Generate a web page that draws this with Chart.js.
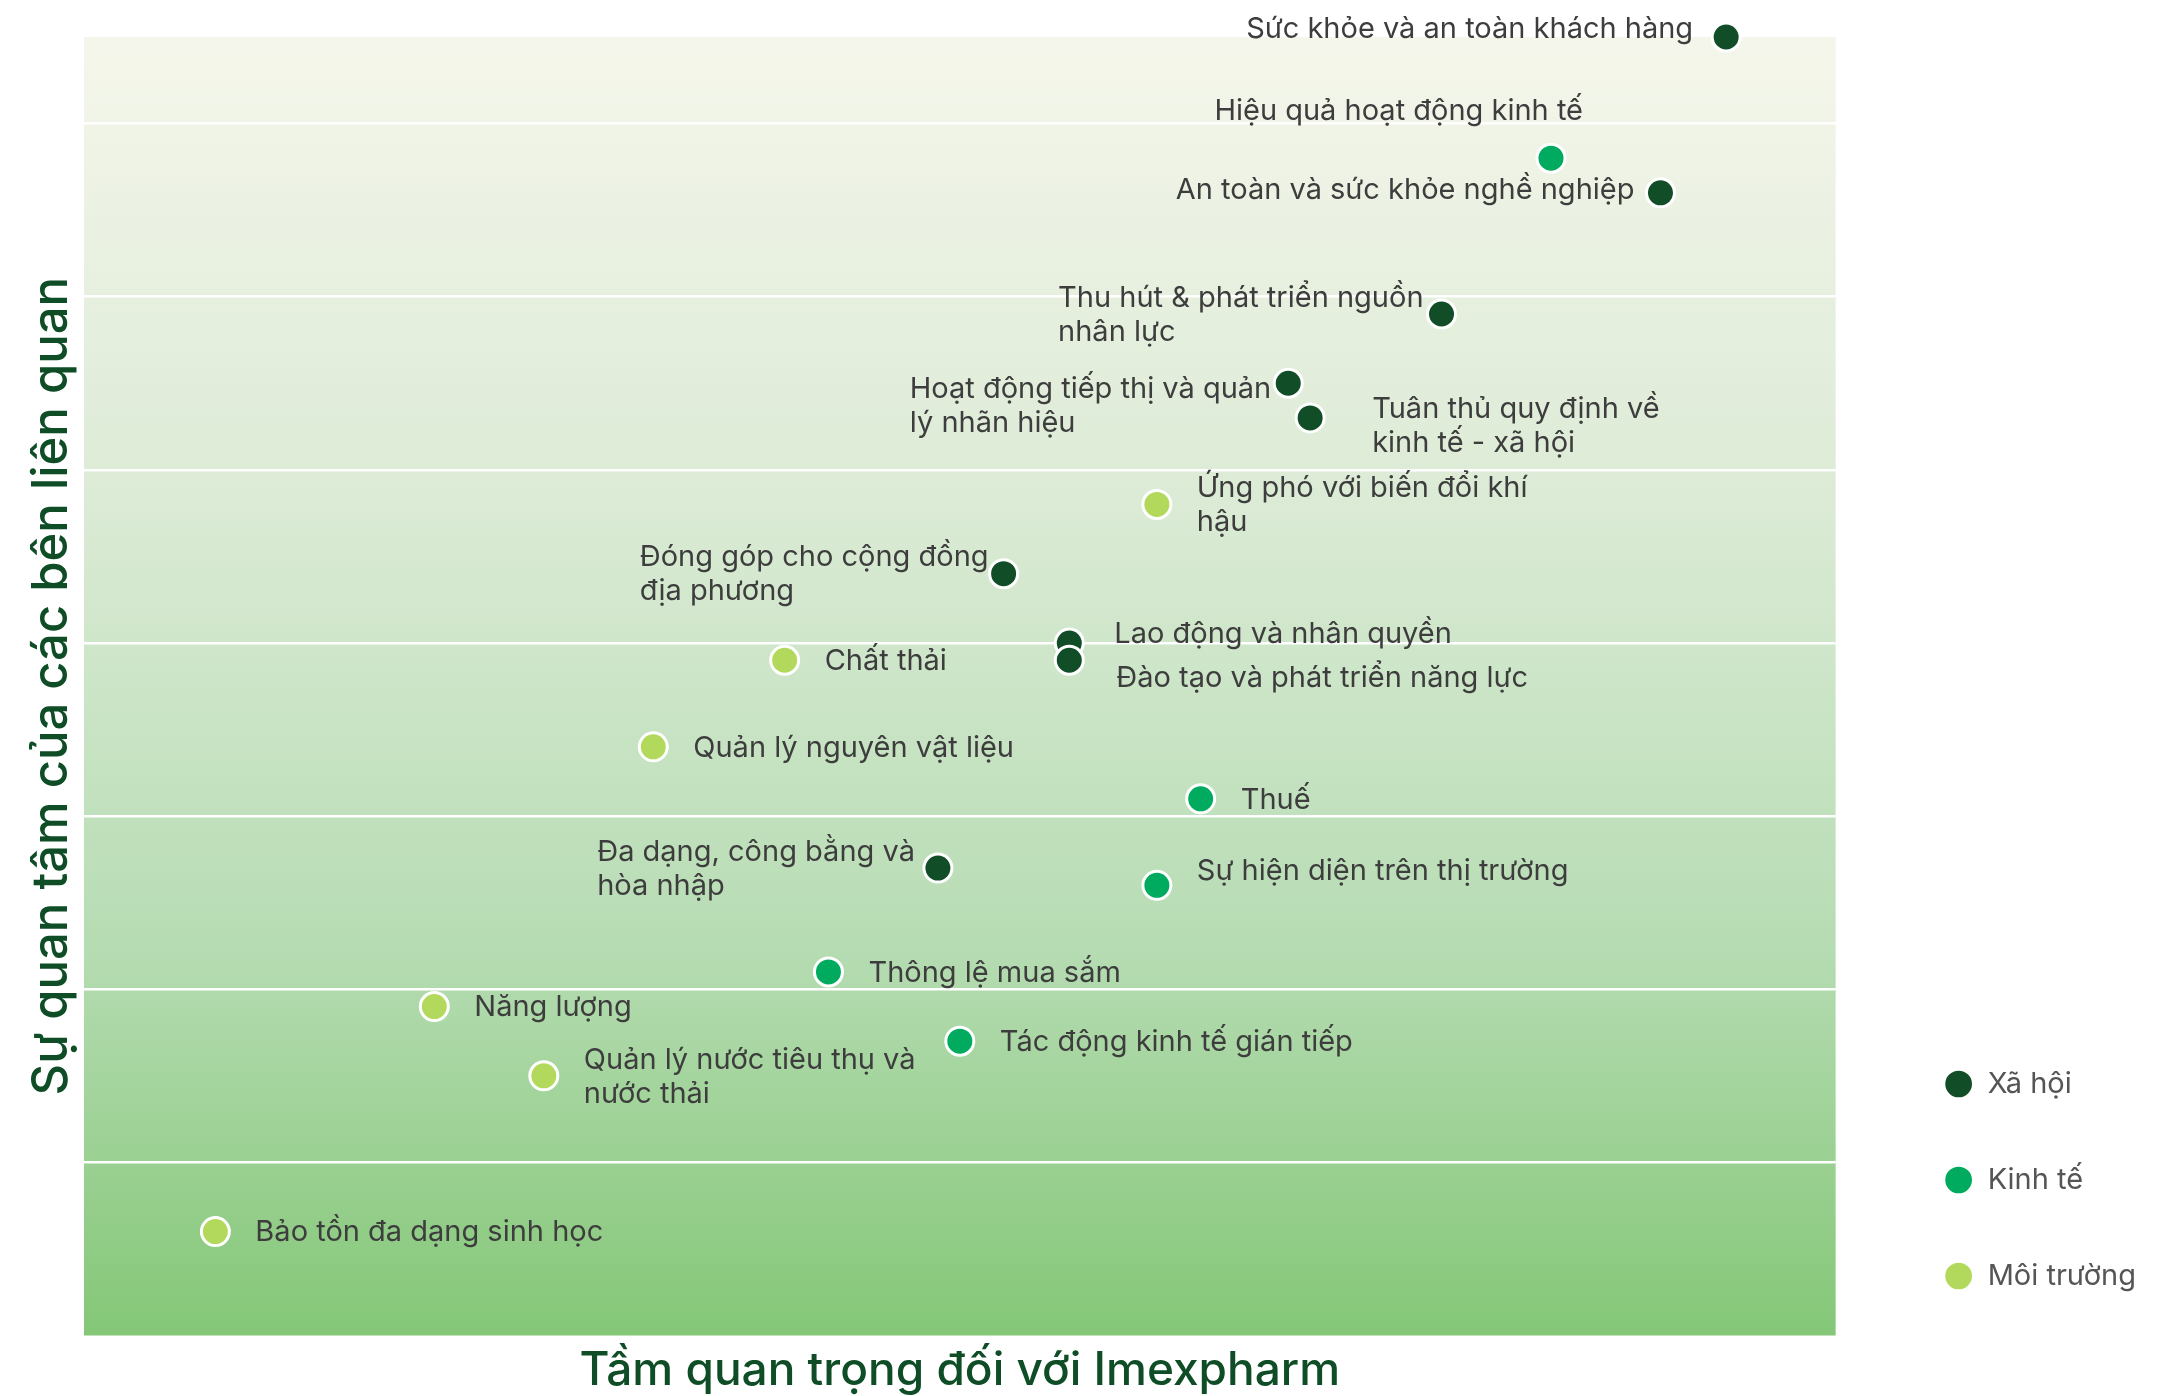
<!DOCTYPE html>
<html lang="vi">
<head>
<meta charset="utf-8">
<title>Ma trận trọng yếu</title>
<script src="https://cdn.jsdelivr.net/npm/chart.js@4.4.1/dist/chart.umd.min.js"></script>
<style>
  html, body { margin: 0; padding: 0; background: #fff; }
  #wrap { width: 2160px; height: 1396px; }
</style>
</head>
<body>
<div id="wrap"><canvas id="matrix"></canvas></div>
<script>
// -------------------------------
// DỮ LIỆU
// -------------------------------
const GROUPS = ["Xã hội", "Kinh tế", "Môi trường"];

const SOCIAL_TOPICS = [
  "Sức khỏe và an toàn khách hàng",
  "An toàn và sức khỏe nghề nghiệp",
  "Thu hút & phát triển nguồn\nnhân lực",
  "Hoạt động tiếp thị và quản\nlý nhãn hiệu",
  "Tuân thủ quy định về\nkinh tế - xã hội",
  "Đóng góp cho cộng đồng\nđịa phương",
  "Lao động và nhân quyền",
  "Đào tạo và phát triển năng lực",
  "Đa dạng, công bằng và\nhòa nhập"
];
const SOCIAL_X = [7.5, 7.2, 6.2, 5.5, 5.6, 4.2, 4.5, 4.5, 3.9];
const SOCIAL_Y = [7.5, 6.6, 5.9, 5.5, 5.3, 4.4, 4.0, 3.9, 2.7];

const ECONOMIC_TOPICS = [
  "Hiệu quả hoạt động kinh tế",
  "Thuế",
  "Sự hiện diện trên thị trường",
  "Thông lệ mua sắm",
  "Tác động kinh tế gián tiếp"
];
const ECONOMIC_X = [6.7, 5.1, 4.9, 3.4, 4.0];
const ECONOMIC_Y = [6.8, 3.1, 2.6, 2.1, 1.7];

const ENV_TOPICS = [
  "Ứng phó với biến đổi khí\nhậu",
  "Chất thải",
  "Quản lý nguyên vật liệu",
  "Năng lượng",
  "Quản lý nước tiêu thụ và\nnước thải",
  "Bảo tồn đa dạng sinh học"
];
const ENV_X = [4.9, 3.2, 2.6, 1.6, 2.1, 0.6];
const ENV_Y = [4.8, 3.9, 3.4, 1.9, 1.5, 0.6];

const X_MAX = 8;
const Y_MAX = 7.5;

// -------------------------------
// KIỂU DÁNG
// -------------------------------
const COLORS = ["#114d27", "#00aa5e", "#b2d95c"];
const TITLE_COLOR = "#0f4d26";
const FONT = "Inter, 'Noto Sans', sans-serif";
const LABEL_SIZE = 29;
const LINE_H = 34;

// vị trí nhãn so với điểm: [bên, khoảng cách, lệch dọc]
const PLACEMENTS = [
  [["l", 33, -8], ["l", 26, -3], ["l", 18, 1], ["l", 17, 23], ["r", 62, 8],
   ["l", 15, 1], ["r", 45, -9], ["r", 47, 18], ["l", 23, 1]],
  [["l", -32, -47], ["r", 40, 1], ["r", 40, -14], ["r", 40, 1], ["r", 40, 1]],
  [["r", 40, 1], ["r", 40, 1], ["r", 40, 1], ["r", 40, 1], ["r", 40, 1], ["r", 40, 1]]
];
const TOPICS = [SOCIAL_TOPICS, ECONOMIC_TOPICS, ENV_TOPICS];

function toPoints(xs, ys) {
  return xs.map((x, i) => ({ x: x, y: ys[i] }));
}

// nền chuyển màu của vùng biểu đồ
const plotBackground = {
  id: "plotBackground",
  beforeDraw(chart) {
    const { ctx, chartArea: a } = chart;
    const g = ctx.createLinearGradient(0, a.top, 0, a.bottom);
    g.addColorStop(0, "#f5f6eb");
    g.addColorStop(0.35, "#dcebd6");
    g.addColorStop(0.7, "#b6dcb3");
    g.addColorStop(1, "#84c777");
    ctx.save();
    ctx.fillStyle = g;
    ctx.fillRect(a.left, a.top, a.right - a.left, a.bottom - a.top);
    ctx.restore();
  }
};

// nhãn chủ đề bên cạnh mỗi điểm
const topicLabels = {
  id: "topicLabels",
  afterDatasetsDraw(chart) {
    const ctx = chart.ctx;
    ctx.save();
    ctx.font = LABEL_SIZE + "px " + FONT;
    ctx.fillStyle = "#3d3d3d";
    ctx.textBaseline = "middle";
    ctx.textAlign = "left";
    chart.data.datasets.forEach((ds, di) => {
      const meta = chart.getDatasetMeta(di);
      meta.data.forEach((pt, i) => {
        const lines = TOPICS[di][i].split("\n");
        const [side, gap, dy] = PLACEMENTS[di][i];
        const w = Math.max(...lines.map(l => ctx.measureText(l).width));
        const left = side === "r" ? pt.x + gap : pt.x - gap - w;
        const top = pt.y + dy - (lines.length - 1) * LINE_H / 2;
        lines.forEach((line, k) => ctx.fillText(line, left, top + k * LINE_H));
      });
    });
    ctx.restore();
  }
};

const datasets = [
  toPoints(SOCIAL_X, SOCIAL_Y),
  toPoints(ECONOMIC_X, ECONOMIC_Y),
  toPoints(ENV_X, ENV_Y)
].map((pts, i) => ({
  label: GROUPS[i],
  data: pts,
  backgroundColor: COLORS[i],
  borderColor: "#ffffff",
  borderWidth: 3,
  pointRadius: 14,
  pointHoverRadius: 14,
  clip: false
}));

new Chart(document.getElementById("matrix"), {
  type: "scatter",
  data: { datasets: datasets },
  options: {
    responsive: true,
    maintainAspectRatio: false,
    animation: false,
    events: [],
    layout: { padding: { top: 37, left: 0, right: 14, bottom: 38.5 } },
    scales: {
      x: {
        type: "linear",
        min: 0,
        max: X_MAX,
        grid: { display: false },
        border: { display: false },
        ticks: { display: false },
        title: {
          display: true,
          text: "Tầm quan trọng đối với Imexpharm",
          color: TITLE_COLOR,
          font: { family: FONT, size: 46, weight: "500" },
          padding: { top: 0, bottom: -41 }
        },
        afterFit(s) { s.height = 22; }
      },
      y: {
        type: "linear",
        min: 0,
        max: Y_MAX,
        ticks: { display: false, stepSize: 1 },
        border: { display: false },
        grid: {
          color: c => (c.tick.value > 0 && c.tick.value < Y_MAX) ? "#ffffff" : "rgba(0,0,0,0)",
          lineWidth: 2.5,
          drawTicks: false
        },
        title: {
          display: true,
          text: "Sự quan tâm của các bên liên quan",
          color: TITLE_COLOR,
          font: { family: FONT, size: 49, weight: "500" },
          padding: { top: 22.6, bottom: 0 }
        },
        afterFit(s) { s.width = 84; }
      },
      gap: {
        type: "linear",
        position: "right",
        display: true,
        grid: { display: false },
        border: { display: false },
        ticks: { display: false },
        afterFit(s) { s.width = 41.5; }
      }
    },
    plugins: {
      tooltip: { enabled: false },
      legend: {
        position: "right",
        align: "end",
        labels: {
          usePointStyle: true,
          pointStyle: "circle",
          boxWidth: 29,
          boxHeight: 21,
          padding: 67,
          color: "#555555",
          font: { family: FONT, size: 29 }
        }
      }
    }
  },
  plugins: [plotBackground, topicLabels]
});
</script>
</body>
</html>
